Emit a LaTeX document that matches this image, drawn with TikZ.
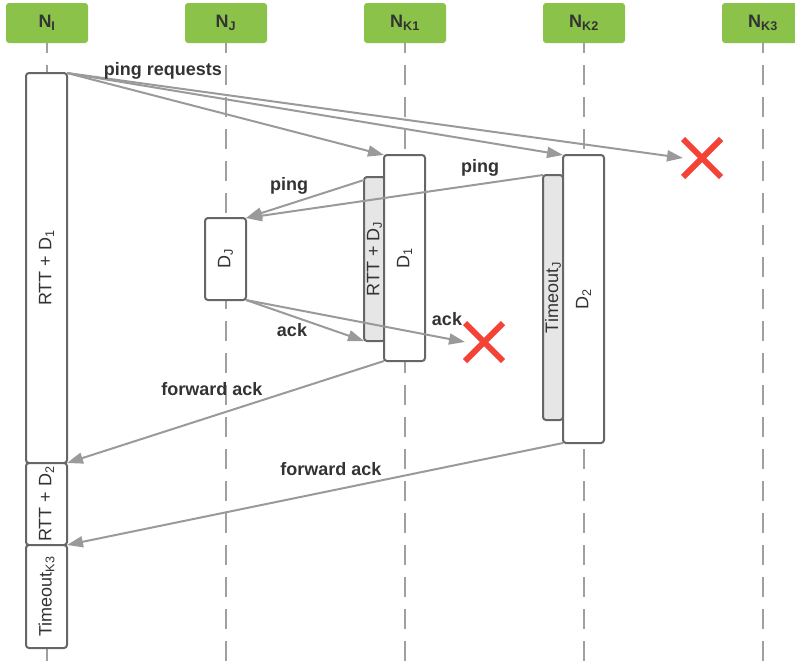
\documentclass[tikz,border=0pt]{standalone}
\usepackage{fontspec}
\setmainfont{Liberation Sans}
\usepackage{xcolor}
\usepackage{tikz}
\usetikzlibrary{positioning, arrows.meta, shapes.misc}

\definecolor{hdrgreen}{HTML}{8BC34A}
\definecolor{txtdark}{HTML}{333333}
\definecolor{lifegray}{HTML}{A0A0A0}
\definecolor{arrgray}{HTML}{9A9A9A}
\definecolor{boxgray}{HTML}{666666}
\definecolor{waitgray}{HTML}{E6E6E6}
\definecolor{lostred}{HTML}{F44336}

\newcommand{\idx}[1]{\textsubscript{#1}}

\begin{document}
\begin{tikzpicture}[
    x=1pt, y=-1pt,
    every node/.style={font=\fontsize{18}{20}\selectfont, text=txtdark},
    head/.style={rectangle, rounded corners=3pt, fill=hdrgreen, minimum width=82pt, minimum height=40pt, font=\fontsize{18}{20}\selectfont\bfseries},
    lifeline/.style={draw=lifegray, line width=2pt, dash pattern=on 20pt off 12pt, dash phase=10pt},
    act/.style={rectangle, draw=boxgray, line width=2pt, rounded corners=3pt, fill=#1, inner sep=0pt, outer sep=0pt, anchor=north west},
    act/.default=white,
    wait/.style={act=waitgray},
    msg/.style={-{Triangle[length=16pt, width=11pt]}, draw=arrgray, line width=2pt},
    lbl/.style={font=\fontsize{18}{20}\selectfont\bfseries},
    lost/.style={cross out, draw=lostred, line width=6pt, minimum size=32pt, inner sep=0pt},
]
    \useasboundingbox (0,0) rectangle (795,670);

    % --- participants (header boxes) ---
    \node[head] (ni)  at (47,23)  {N\idx{I}};
    \node[head] (nj)  at (226,23) {N\idx{J}};
    \node[head] (nk1) at (405,23) {N\idx{K1}};
    \node[head] (nk2) at (584,23) {N\idx{K2}};
    \node[head] (nk3) at (763,23) {N\idx{K3}};

    % --- lifelines ---
    \coordinate (bottom) at (0,670);
    \draw[lifeline] (ni.south)  -- (ni.south  |- bottom);
    \draw[lifeline] (nj.south)  -- (nj.south  |- bottom);
    \draw[lifeline] (nk1.south) -- (nk1.south |- bottom);
    \draw[lifeline] (nk2.south) -- (nk2.south |- bottom);
    \draw[lifeline] (nk3.south) -- (nk3.south |- bottom);

    % --- activation boxes on N_I ---
    \node[act, minimum width=41pt, minimum height=390pt] (ni1) at (26,73)  {\rotatebox{90}{RTT + D\idx{1}}};
    \node[act, minimum width=41pt, minimum height=82pt]  (ni2) at (26,463) {\rotatebox{90}{RTT + D\idx{2}}};
    \node[act, minimum width=41pt, minimum height=103pt] (ni3) at (26,545) {\rotatebox{90}{Timeout\idx{K3}}};

    % N_J
    \node[act, minimum width=41pt, minimum height=82pt] (dj) at (205,218) {\rotatebox{90}{D\idx{J}}};

    % N_K1: waiting for J, then own delay
    \node[wait, minimum width=21pt, minimum height=164pt] (wj) at (364,177) {\rotatebox{90}{RTT + D\idx{J}}};
    \node[act, minimum width=41pt, minimum height=206pt]  (d1) at (384,155) {\rotatebox{90}{D\idx{1}}};

    % N_K2: timeout on J, then own delay
    \node[wait, minimum width=20pt, minimum height=245pt] (wk) at (543,175) {\rotatebox{90}{Timeout\idx{J}}};
    \node[act, minimum width=41pt, minimum height=288pt]  (d2) at (563,155) {\rotatebox{90}{D\idx{2}}};

    % --- lost messages ---
    \node[lost] (xk3) at (702,158) {};
    \node[lost] (xj)  at (484,342) {};

    % --- messages ---
    % ping requests from N_I
    \draw[msg] (ni1.north east) -- (d1.north west);
    \draw[msg] (ni1.north east) -- (d2.north west);
    \draw[msg] (ni1.north east) -- (xk3.west);

    % pings to N_J
    \draw[msg] ([yshift=-3pt]wj.north west) -- (dj.north east);
    \draw[msg] (wk.north west) -- (dj.north east);

    % acks from N_J
    \draw[msg] (dj.south east) -- (wj.south west);
    \draw[msg] (dj.south east) -- (xj.west);

    % forwarded acks back to N_I
    \draw[msg] (d1.south west) -- (ni1.south east);
    \draw[msg] (d2.south west) -- (ni2.south east);

    % --- labels ---
    \node[lbl] (lreq)   at (163,71)  {ping requests};
    \node[lbl] (lpingj) at (289,186) {ping};
    \node[lbl] (lpingk) at (480,168) {ping};
    \node[lbl] (lackj)  at (292,330) {ack};
    \node[lbl] (lackk)  at (447,319) {ack};
    \node[lbl] (lfwd1)  at (212,389) {forward ack};
    \node[lbl] (lfwd2)  at (331,469) {forward ack};
\end{tikzpicture}
\end{document}
